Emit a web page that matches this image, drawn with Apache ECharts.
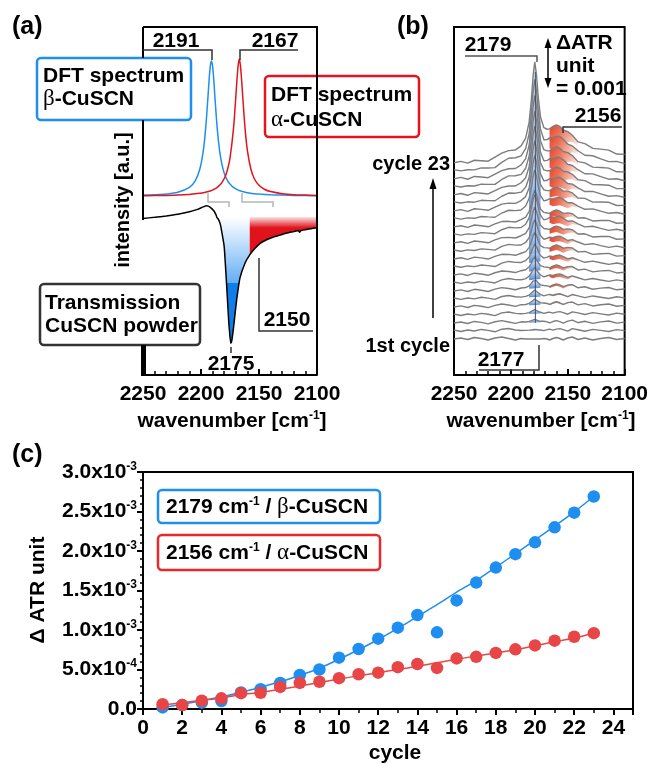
<!DOCTYPE html>
<html><head><meta charset="utf-8">
<script src="https://cdn.jsdelivr.net/npm/echarts/dist/echarts.min.js"></script>
<style>html,body{margin:0;padding:0;background:#fff}#c{width:651px;height:764px}</style>
</head><body><div id="c"></div>
<script>
// ---------- Panel (a) data ----------
const dftWn = [2250,2240,2230,2220,2210,2205,2201,2198,2196,2194,2193,2192,2191,2190,2189,2188,2186,2184,2182,2180,2179,2177,2175,2172,2170,2169,2168,2167,2166,2165,2164,2162,2160,2157,2154,2150,2145,2140,2130,2120,2110,2100];
const dftBeta = [51.7,51.8,52.0,52.5,53.9,55.8,59.2,64.5,70.8,79.9,84.8,88.7,90.2,88.7,84.8,79.9,70.8,64.5,60.6,58.0,57.1,55.8,54.9,53.9,53.5,53.3,53.2,53.0,52.9,52.8,52.7,52.5,52.4,52.2,52.1,52.0,51.9,51.8,51.7,51.6,51.55,51.5];
const dftAlpha = [51.5,51.6,51.6,51.7,51.9,52.1,52.2,52.4,52.5,52.7,52.8,52.9,53.0,53.2,53.3,53.5,53.9,54.5,55.3,56.4,57.1,59.2,62.3,70.8,79.9,84.8,88.9,90.8,88.9,84.8,79.9,70.8,64.5,59.2,56.4,54.5,53.3,52.7,52.1,51.8,51.7,51.6];
const transWn = [2250,2240,2230,2220,2210,2203,2198,2195,2192,2189,2187,2186.5,2185,2183.5,2182,2180,2178,2177,2176,2175,2174.3,2173.5,2172.2,2171,2169.3,2166.4,2162,2158,2154,2149,2144,2138,2132,2126,2120,2116,2115,2114,2108,2100];
const transVal = [45.0,45.3,45.7,46.2,46.9,47.6,48.3,48.6,48.2,47.2,46.0,45.4,44.7,43.5,41.0,36.9,26.4,20.5,14.8,11.0,9.1,9.8,12.9,16.5,21.5,27.9,32.2,34.5,36.2,37.8,38.8,39.6,40.2,40.8,41.2,41.5,41.0,41.5,41.9,42.3];
const fillTop = 45.4;
const blueFillRange = [2158, 2186.5];
const redFillRange = [2100, 2158];
const blueStepLevel = 26.4;
const wnTicks = [2100, 2150, 2200, 2250];

// ---------- Panel (b) data ----------
const wnB = [2250,2244,2238,2232,2226,2220,2214,2208,2202,2196,2191,2187,2184,2182,2180.5,2179,2177.5,2176,2174,2171,2168,2166,2163,2160,2157,2154,2150,2146,2141,2135,2128,2121,2114,2107,2100];
const peakShape = [0.0024,0.0029,0.0035,0.0043,0.0055,0.0072,0.0099,0.0144,0.0226,0.0407,0.0784,0.1607,0.3289,0.5765,0.8448,1,0.8448,0.5765,0.3289,0.1607,0.0919,0.0676,0.0457,0.0328,0.0247,0.0192,0.0144,0.0111,0.0084,0.0063,0.0047,0.0036,0.0029,0.0024,0.0020];
const shoulderShape = [0,0,0,0,0,0,0,0,0,0,0,0,0.02,0.03,0.04,0.05,0.07,0.1,0.15,0.3,0.55,0.75,0.92,1.0,1.0,0.9,0.7,0.45,0.25,0.12,0.05,0.02,0.01,0,0];
const broadShape = [0,0.02,0,0.04,0.06,0.1,0.18,0.3,0.45,0.48,0.45,0.5,0.55,0.6,0.62,0.65,0.67,0.7,0.72,0.75,0.8,0.82,0.84,0.85,0.86,0.86,0.85,0.82,0.78,0.73,0.66,0.58,0.5,0.42,0.36];
const noiseA = [0,0.00002,-0.00001,0.00003,0.00001,-0.00002,0.00002,0.00004,0.00001,-0.00002,0.00001,0,0,0,0,0,0,0,0,0.00001,0,-0.00002,0.00001,0.00003,0.00001,-0.00002,0.00002,0.00004,-0.00001,0.00002,-0.00002,0.00001,0.00003,-0.00001,0.00001];
const noiseB = [0.00002,-0.00001,0.00002,0,0.00003,0.00001,-0.00002,0.00003,0.00004,0.00001,0,0,0,0,0,0,0,0,0,-0.00001,0.00001,0.00002,0,0.00002,0.00003,0.00001,-0.00002,0.00003,0.00001,-0.00002,0.00002,0,-0.00002,0.00002,0];
const amp179 = [0,0.00002,0.00006,0.00008,0.00012,0.00014,0.00018,0.00024,0.00028,0.00036,0.00042,0.0005,0.00058,0.00066,0.0006,0.0008,0.00092,0.00104,0.00116,0.00128,0.00142,0.00156,0.00172];
const amp156 = [0,0,0,0,0.00002,0.00002,0.00004,0.00006,0.00006,0.00008,0.0001,0.0001,0.00012,0.00014,0.00012,0.00016,0.00018,0.0002,0.00022,0.00024,0.00026,0.00028,0.0003];
const ampBroad = [0,0.00002,0.00002,0.00004,0.00006,0.00006,0.00008,0.0001,0.00012,0.00014,0.00016,0.00018,0.0002,0.00022,0.0002,0.00026,0.00028,0.0003,0.00032,0.00034,0.00036,0.0004,0.00044];
const traceBase0 = 0.00072;
const traceStep = 0.00016;
const bYMax = 0.00696;

// ---------- Panel (c) data ----------
const cycles = [1,2,3,4,5,6,7,8,9,10,11,12,13,14,15,16,17,18,19,20,21,22,23];
const beta2179 = [0.00002,0.00005,0.00008,0.0001,0.00021,0.00025,0.00033,0.00043,0.0005,0.00065,0.00076,0.00089,0.00103,0.00119,0.00097,0.001375,0.0016,0.00179,0.00196,0.00211,0.0023,0.002485,0.00269];
const alpha2156 = [0.00006,0.00005,0.000105,0.000135,0.0002,0.000206,0.00028,0.00033,0.000345,0.00039,0.00044,0.00046,0.00053,0.00057,0.00052,0.00064,0.00066,0.00071,0.000755,0.000805,0.000865,0.000915,0.00096];
const betaFit = [0.00002,0.00006,0.000105,0.000155,0.00021,0.000275,0.000345,0.000425,0.000515,0.00063,0.00075,0.00088,0.00102,0.00117,0.00132,0.00148,0.001625,0.001795,0.001965,0.00214,0.002315,0.002495,0.00269];
const alphaFit = [0.00005,0.00008,0.00011,0.00014,0.00018,0.00021,0.00025,0.00029,0.000335,0.00038,0.00042,0.00046,0.0005,0.00054,0.000585,0.00063,0.00067,0.00071,0.00075,0.0008,0.00085,0.0009,0.00096];
const cTickMant = ['0.0','5.0','1.0','1.5','2.0','2.5','3.0'];
const cTickExp = ['','-4','-3','-3','-3','-3','-3'];

// ---------- styling ----------
const F = "'Liberation Sans', Arial, sans-serif";
const SERIF = "'Liberation Serif', 'Times New Roman', serif";
const BLUE = '#1e8ff0', RED = '#e3141e', PBLUE = '#1f8ef1', PRED = '#e84646';

const zip = (a, b) => a.map((v, i) => [v, b[i]]);

function traceB(i) {
  const nz = i % 2 ? noiseB : noiseA;
  return wnB.map((w, j) => [w, traceBase0 + i * traceStep + ampBroad[i] * broadShape[j] + amp179[i] * peakShape[j] + amp156[i] * shoulderShape[j] + nz[j]]);
}

function renderFillA(params, api) {
  const which = api.value(2);
  const range = which === 0 ? blueFillRange : redFillRange;
  const pts = [];
  for (let j = 0; j < transWn.length; j++) {
    const w = transWn[j];
    if (w >= range[0] && w <= range[1]) pts.push(api.coord([w, transVal[j]]));
  }
  pts.push(api.coord([range[0], fillTop]));
  pts.push(api.coord([range[1], fillTop]));
  const y0 = api.coord([2175, fillTop])[1];
  let fill;
  if (which === 0) {
    const y1 = api.coord([2175, 9])[1];
    const f = (fillTop - blueStepLevel) / (fillTop - 9);
    fill = new echarts.graphic.LinearGradient(0, y0, 0, y1, [
      {offset: 0, color: '#ffffff'}, {offset: f, color: '#63aef5'},
      {offset: f + 0.001, color: '#0f7ee8'}, {offset: 1, color: '#0f7ee8'}], true);
  } else {
    const y1 = api.coord([2175, 42.3])[1];
    fill = new echarts.graphic.LinearGradient(0, y0, 0, y1, [
      {offset: 0, color: '#fbe4e4'}, {offset: 1, color: '#e0131c'}], true);
  }
  return {type: 'polygon', shape: {points: pts}, style: {fill: fill}};
}

function renderFillB(params, api) {
  const i = api.value(2);
  const tr = traceB(i);
  const children = [];
  if (amp179[i] > 0) {
    const top = [], bot = [];
    for (let j = 12; j <= 18; j++) {
      top.push(api.coord(tr[j]));
      bot.unshift(api.coord([wnB[j], tr[j][1] - amp179[i] * peakShape[j]]));
    }
    children.push({type: 'polygon', shape: {points: top.concat(bot)}, style: {
      fill: new echarts.graphic.LinearGradient(0, 0, 0, 1, [{offset: 0, color: 'rgba(235,242,252,0.7)'}, {offset: 1, color: '#4d86d4'}])}});
  }
  if (amp156[i] > 0) {
    const top = [], bot = [];
    for (let j = 21; j <= 28; j++) {
      top.push(api.coord(tr[j]));
      bot.unshift(api.coord([wnB[j], tr[j][1] - amp156[i] * shoulderShape[j]]));
    }
    children.push({type: 'polygon', shape: {points: top.concat(bot)}, style: {
      fill: new echarts.graphic.LinearGradient(0, 0, 1, 1, [{offset: 0, color: '#e4432b'}, {offset: 0.35, color: '#ec7258'}, {offset: 1, color: '#fdf0ec'}])}});
  }
  return {type: 'group', children: children};
}

// ---------- series ----------
const series = [];
series.push({type: 'custom', xAxisIndex: 0, yAxisIndex: 0, renderItem: renderFillA, data: [[2172, 40, 0], [2130, 40, 1]], z: 1, silent: true});
series.push({type: 'line', xAxisIndex: 0, yAxisIndex: 0, data: zip(dftWn, dftBeta), symbol: 'none', smooth: 0.3, lineStyle: {color: BLUE, width: 1.5}, z: 2});
series.push({type: 'line', xAxisIndex: 0, yAxisIndex: 0, data: zip(dftWn, dftAlpha), symbol: 'none', smooth: 0.3, lineStyle: {color: RED, width: 1.5}, z: 2});
series.push({type: 'line', xAxisIndex: 0, yAxisIndex: 0, data: zip(transWn, transVal), symbol: 'none', smooth: 0.15, lineStyle: {color: '#000', width: 1.5}, z: 3});
const fillItems = [];
for (let i = cycles.length - 1; i >= 0; i--) fillItems.push([2175, traceBase0 + i * traceStep, i]);
series.push({type: 'custom', xAxisIndex: 1, yAxisIndex: 1, renderItem: renderFillB, data: fillItems, z: 1, silent: true});
for (let i = 0; i < cycles.length; i++) {
  series.push({type: 'line', xAxisIndex: 1, yAxisIndex: 1, data: traceB(i), symbol: 'none', lineStyle: {color: '#7d7d7d', width: 1.4}, z: 2});
}
const topTrace = traceB(cycles.length - 1);
series.push({type: 'line', xAxisIndex: 1, yAxisIndex: 1, data: [[2178.5, traceBase0 + 2 * traceStep], [2178.5, topTrace[15][1] - 0.0002]], symbol: 'none', lineStyle: {color: '#3a4a6a', width: 1}, z: 3});
series.push({type: 'line', xAxisIndex: 2, yAxisIndex: 2, data: zip(cycles, betaFit), symbol: 'none', smooth: 0.3, lineStyle: {color: PBLUE, width: 1.5}, z: 2});
series.push({type: 'line', xAxisIndex: 2, yAxisIndex: 2, data: zip(cycles, alphaFit), symbol: 'none', smooth: 0.3, lineStyle: {color: PRED, width: 1.5}, z: 2});
series.push({type: 'scatter', xAxisIndex: 2, yAxisIndex: 2, data: zip(cycles, beta2179), symbolSize: 12.5, itemStyle: {color: PBLUE, opacity: 1}, z: 3});
series.push({type: 'scatter', xAxisIndex: 2, yAxisIndex: 2, data: zip(cycles, alpha2156), symbolSize: 12.5, itemStyle: {color: PRED, opacity: 1}, z: 4});

// ---------- axes ----------
function wnAxis(gi) {
  return {gridIndex: gi, type: 'value', min: 2100, max: 2250, interval: 50, inverse: true,
    axisLine: {show: true, lineStyle: {color: '#000', width: 2}},
    axisTick: {show: true, inside: true, length: 6, lineStyle: {color: '#000', width: 2}},
    minorTick: {show: true, splitNumber: 5, length: 4, lineStyle: {color: '#000', width: 1.5}},
    splitLine: {show: false}, minorSplitLine: {show: false},
    axisLabel: {fontSize: 21, fontWeight: 'bold', fontFamily: F, color: '#000', margin: 9,
      formatter: v => wnTicks.indexOf(v) >= 0 ? String(v) : ''}};
}
const supRich = {
  n: {fontSize: 21, fontWeight: 'bold', fontFamily: F, color: '#000'},
  s: {fontSize: 12, fontWeight: 'bold', fontFamily: F, color: '#000', padding: [0, 0, 11, 0]}
};

const option = {
  animation: false,
  backgroundColor: '#fff',
  grid: [
    {left: 143, top: 27, width: 174, height: 348, show: false},
    {left: 454, top: 27, width: 174, height: 348, show: true, borderColor: '#000', borderWidth: 2, backgroundColor: 'transparent'},
    {left: 143, top: 472, width: 490, height: 237, show: true, borderColor: '#000', borderWidth: 2, backgroundColor: 'transparent'}
  ],
  xAxis: [wnAxis(0), wnAxis(1),
    {gridIndex: 2, type: 'value', min: 0, max: 25, interval: 2,
      axisLine: {show: true, lineStyle: {color: '#000', width: 2}},
      axisTick: {show: true, inside: false, length: 6, lineStyle: {color: '#000', width: 2}},
      minorTick: {show: true, splitNumber: 2, length: 4, lineStyle: {color: '#000', width: 1.5}},
      splitLine: {show: false},
      axisLabel: {fontSize: 21, fontWeight: 'bold', fontFamily: F, color: '#000', margin: 9, showMaxLabel: false}}
  ],
  yAxis: [
    {gridIndex: 0, type: 'value', min: 0, max: 100, show: false},
    {gridIndex: 1, type: 'value', min: 0, max: bYMax, show: false},
    {gridIndex: 2, type: 'value', min: 0, max: 0.003, interval: 0.0005,
      axisLine: {show: true, lineStyle: {color: '#000', width: 2}},
      axisTick: {show: true, inside: false, length: 6, lineStyle: {color: '#000', width: 2}},
      minorTick: {show: true, splitNumber: 5, length: 3, lineStyle: {color: '#000', width: 1.5}},
      splitLine: {show: false},
      axisLabel: {margin: 6, rich: supRich, formatter: v => {
        const k = Math.round(v / 0.0005);
        return k === 0 ? '{n|' + cTickMant[0] + '}' : '{n|' + cTickMant[k] + 'x10}{s|' + cTickExp[k] + '}';
      }}}
  ],
  series: series,
  graphic: []
};

// ---------- annotations ----------
const G = option.graphic;
const bold = (s) => 'bold ' + s + 'px ' + F;
function txt(x, y, text, o) {
  G.push({type: 'text', x: x, y: y, z: 100, rotation: (o && o.rot) || 0,
    style: Object.assign({text: text, fill: '#000', font: bold(20), align: 'left', verticalAlign: 'middle'}, o && o.style)});
}
function pl(points, color, w) {
  G.push({type: 'polyline', z: 100, shape: {points: points}, style: {stroke: color || '#333', lineWidth: w || 1.5, fill: null}});
}
function box(x, y, w, h, color) {
  G.push({type: 'rect', z: 90, shape: {x: x, y: y, width: w, height: h, r: 4}, style: {fill: '#fff', stroke: color, lineWidth: 2.5}});
}
function tri(points, color) {
  G.push({type: 'polygon', z: 100, shape: {points: points}, style: {fill: color || '#000'}});
}
const richBox = {
  b: {fontSize: 21, fontWeight: 'bold', fontFamily: F, color: '#000'},
  g: {fontSize: 23, fontFamily: SERIF, color: '#000'},
  s: {fontSize: 12, fontWeight: 'bold', fontFamily: F, color: '#000', padding: [0, 0, 11, 0]}
};

pl([[143, 27], [317, 27], [317, 375]], '#000', 2);
pl([[143, 27], [143, 58]], '#000', 2);
pl([[143, 120], [143, 220]], '#000', 2);
G.push({type: 'rect', z: 95, shape: {x: 141, y: 345, width: 5, height: 31}, style: {fill: '#000'}});
txt(12, 27, '(a)', {style: {font: bold(25)}});
txt(397, 27, '(b)', {style: {font: bold(25)}});
txt(12, 455, '(c)', {style: {font: bold(25)}});
txt(176, 41, '2191', {style: {align: 'center', font: bold(21)}});
pl([[143, 50], [212, 50], [212, 60]], '#333', 1.5);
txt(275, 41, '2167', {style: {align: 'center', font: bold(21)}});
pl([[240, 60], [240, 50], [298, 50]], '#333', 1.5);
pl([[208, 193], [208, 202], [229, 202], [229, 207]], '#b5b5b5', 1.5);
pl([[242, 193], [242, 202], [273, 202], [273, 207]], '#b5b5b5', 1.5);
box(37, 58, 154, 62, BLUE);
txt(43, 76, 'DFT spectrum', {style: {font: bold(21)}});
txt(43, 99, '{g|β}{b|-CuSCN}', {style: {rich: richBox}});
box(265, 76, 154, 61, RED);
txt(271, 95, 'DFT spectrum', {style: {font: bold(21)}});
txt(271, 120, '{g|α}{b|-CuSCN}', {style: {rich: richBox}});
txt(123, 200, 'intensity [a.u.]', {rot: Math.PI / 2, style: {align: 'center', font: bold(20)}});
box(40, 284, 160, 61, '#333');
txt(45, 303, 'Transmission', {style: {font: bold(21)}});
txt(45, 326, 'CuSCN powder', {style: {font: bold(21)}});
txt(231, 364, '2175', {style: {align: 'center', font: bold(21)}});
pl([[231, 347], [231, 353]], '#333', 1.5);
txt(287, 320, '2150', {style: {align: 'center', font: bold(21)}});
pl([[259, 258], [259, 331], [313, 331]], '#333', 1.5);
txt(232, 421, '{b|wavenumber [cm}{s|-1}{b|]}', {style: {align: 'center', rich: richBox}});
txt(488, 45, '2179', {style: {align: 'center', font: bold(21)}});
pl([[465, 56], [537, 56], [537, 62]], '#555', 1.5);
pl([[548, 46], [548, 80]], '#000', 1.5);
tri([[548, 38], [544.5, 48], [551.5, 48]]);
tri([[548, 88], [544.5, 78], [551.5, 78]]);
txt(556, 43, 'ΔATR', {style: {font: bold(21)}});
txt(556, 66, 'unit', {style: {font: bold(21)}});
txt(556, 89, '= 0.001', {style: {font: bold(21)}});
txt(598, 116, '2156', {style: {align: 'center', font: bold(21)}});
pl([[563, 133], [563, 127], [622, 127]], '#333', 1.5);
txt(450, 164, 'cycle 23', {style: {align: 'right', font: bold(20)}});
pl([[433, 318], [433, 186]], '#000', 1.5);
tri([[433, 178], [429.5, 189], [436.5, 189]]);
txt(450, 346, '1st cycle', {style: {align: 'right', font: bold(20)}});
txt(501, 360, '2177', {style: {align: 'center', font: bold(21)}});
pl([[479, 370], [539, 370], [539, 345]], '#333', 1.5);
txt(541, 421, '{b|wavenumber [cm}{s|-1}{b|]}', {style: {align: 'center', rich: richBox}});
box(158, 490, 222, 33, PBLUE);
txt(166, 507, '{b|2179 cm}{s|-1}{b| / }{g|β}{b|-CuSCN}', {style: {rich: richBox}});
box(158, 535, 222, 35, '#e8282d');
txt(166, 553, '{b|2156 cm}{s|-1}{b| / }{g|α}{b|-CuSCN}', {style: {rich: richBox}});
txt(38, 590, 'Δ ATR unit', {rot: Math.PI / 2, style: {align: 'center', font: bold(21)}});
txt(395, 753, 'cycle', {style: {align: 'center', font: bold(21)}});

const chart = echarts.init(document.getElementById('c'), null, {renderer: 'canvas'});
chart.setOption(option);
</script></body></html>
